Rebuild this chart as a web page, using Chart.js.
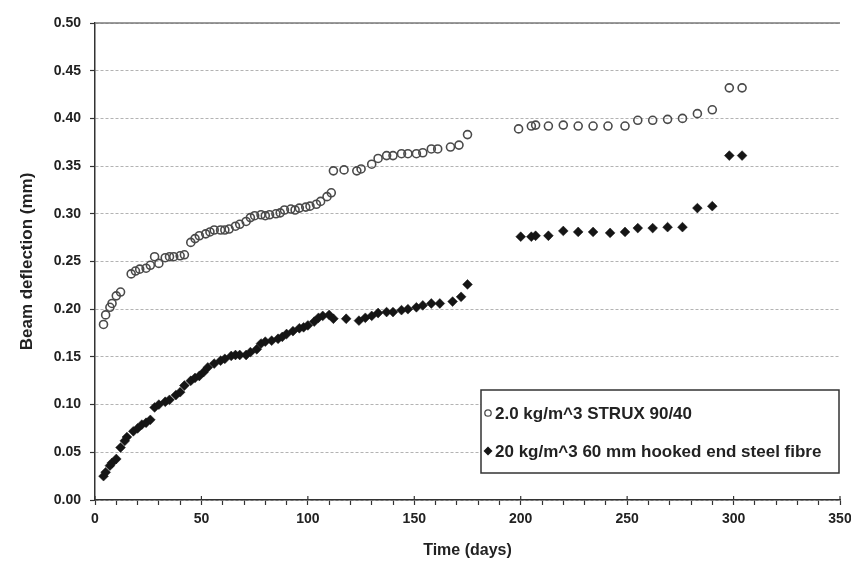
<!DOCTYPE html>
<html>
<head>
<meta charset="utf-8">
<script src="https://cdn.jsdelivr.net/npm/chart.js@4/dist/chart.umd.min.js"></script>
<style>
  body { margin: 0; background: #fff; }
  canvas { display: block; }
</style>
</head>
<body>
<canvas id="chart" width="851" height="563"></canvas>
<script>
// Datos (días, flecha en mm)
const struxLabel = '2.0 kg/m^3 STRUX 90/40';
const steelLabel = '20 kg/m^3 60 mm hooked end steel fibre';

const struxDays = [4,5,7,8,10,12,17,19,21,24,26,28,30,33,35,37,40,42,45,47,49,52,54,56,59,61,63,66,68,71,73,75,78,80,82,85,87,89,92,94,96,99,101,104,106,109,111,
    112,117,123,125,130,133,137,140,144,147,151,154,158,161,167,171,175,
    199,205,207,213,220,227,234,241,249,255,262,269,276,283,290,298,304];
const struxValues = [0.184,0.194,0.202,0.206,0.214,0.218,0.237,0.240,0.242,0.243,0.246,0.255,0.248,0.254,0.255,0.255,
    0.256,0.257,0.270,0.274,0.277,0.279,0.281,0.283,0.283,0.283,0.284,0.287,0.289,0.292,0.296,0.298,0.299,0.298,0.299,0.300,
    0.301,0.304,0.305,0.304,0.306,0.307,0.308,0.310,0.313,0.318,0.322,
    0.345,0.346,0.345,0.347,0.352,0.358,0.361,0.361,0.363,0.363,0.363,0.364,0.368,0.368,0.370,0.372,0.383,
    0.389,0.392,0.393,0.392,0.393,0.392,0.392,0.392,0.392,0.398,0.398,0.399,0.400,0.405,0.409,0.432,0.432];

const steelDays = [4,5,7,8,10,12,14,15,18,20,22,24,26,28,30,33,35,38,40,42,45,47,49,51,53,56,59,61,64,66,68,71,73,76,78,80,83,86,88,90,93,96,98,100,103,105,107,110,
    112,118,124,127,130,133,137,140,144,147,151,154,158,162,168,172,175,
    200,205,207,213,220,227,234,242,249,255,262,269,276,283,290,298,304];
const steelValues = [0.025,0.029,0.036,0.039,0.043,0.055,0.062,0.066,0.072,0.075,
    0.079,0.081,0.084,0.097,0.100,0.103,0.105,0.110,0.113,0.120,
    0.125,0.128,0.130,0.134,0.139,0.143,0.146,0.148,0.151,0.152,
    0.152,0.152,0.155,0.158,0.164,0.166,0.167,0.169,0.171,0.174,
    0.177,0.180,0.181,0.183,0.187,0.191,0.193,0.194,
    0.190,0.190,0.188,0.191,0.193,0.196,0.197,0.197,0.199,0.200,0.202,0.204,0.206,0.206,0.208,0.213,0.226,
    0.276,0.276,0.277,0.277,0.282,0.281,0.281,0.280,0.281,0.285,0.285,0.286,0.286,0.306,0.308,0.361,0.361];

const xMin = 0, xMax = 350, xStep = 10, xLabelStep = 50;
const yMin = 0, yMax = 0.5, yStep = 0.05;

const FONT = '"Liberation Sans", Arial, sans-serif';
const TEXT = '#222';

function toPoints(xs, ys) {
    return xs.map((x, i) => ({ x: x, y: ys[i] }));
}

// Línea superior continua y marcas mayores que cruzan el eje X
const axisExtras = {
    id: 'axisExtras',
    beforeDatasetsDraw(chart) {
        const { ctx, chartArea, scales } = chart;
        const yTop = scales.y.getPixelForValue(yMax);
        ctx.save();
        ctx.strokeStyle = '#7a7a7a';
        ctx.lineWidth = 1.5;
        ctx.beginPath();
        ctx.moveTo(chartArea.left, yTop);
        ctx.lineTo(chartArea.right, yTop);
        ctx.stroke();
        ctx.strokeStyle = '#333';
        ctx.lineWidth = 1.2;
        scales.x.ticks.forEach(t => {
            if (t.value % xLabelStep !== 0) return;
            const px = scales.x.getPixelForValue(t.value);
            ctx.beginPath();
            ctx.moveTo(px, chartArea.bottom);
            ctx.lineTo(px, chartArea.bottom - 4);
            ctx.stroke();
        });
        ctx.restore();
    }
};

// Leyenda dibujada dentro del área de la gráfica
const boxLegend = {
    id: 'boxLegend',
    afterDraw(chart) {
        const ctx = chart.ctx;
        const left = 481, top = 390, w = 358, h = 83;
        ctx.save();
        ctx.fillStyle = '#fff';
        ctx.fillRect(left, top, w, h);
        ctx.strokeStyle = '#333';
        ctx.lineWidth = 1.5;
        ctx.strokeRect(left, top, w, h);
        ctx.font = 'bold 17px ' + FONT;
        ctx.textBaseline = 'middle';
        ctx.fillStyle = TEXT;
        const rows = [top + 23, top + 61];
        chart.data.datasets.forEach((ds, i) => {
            const y = rows[i];
            const sx = left + 7;
            ctx.beginPath();
            if (ds.pointStyle === 'circle') {
                ctx.arc(sx, y, 3.2, 0, Math.PI * 2);
                ctx.strokeStyle = ds.borderColor;
                ctx.lineWidth = 1.3;
                ctx.stroke();
            } else {
                ctx.moveTo(sx, y - 4.5); ctx.lineTo(sx + 4.5, y); ctx.lineTo(sx, y + 4.5); ctx.lineTo(sx - 4.5, y);
                ctx.closePath();
                ctx.fillStyle = ds.backgroundColor;
                ctx.fill();
            }
            ctx.fillStyle = TEXT;
            ctx.fillText(ds.label, left + 14, y + 1);
        });
        ctx.restore();
    }
};

new Chart(document.getElementById('chart'), {
    type: 'scatter',
    data: {
        datasets: [{
            label: struxLabel,
            data: toPoints(struxDays, struxValues),
            pointStyle: 'circle',
            pointRadius: 4,
            borderWidth: 1.6,
            borderColor: '#4a4a4a',
            backgroundColor: 'rgba(255,255,255,0)'
        }, {
            label: steelLabel,
            data: toPoints(steelDays, steelValues),
            pointStyle: 'rectRot',
            pointRadius: 4.9,
            borderWidth: 0.5,
            borderColor: '#151515',
            backgroundColor: '#151515'
        }]
    },
    options: {
        responsive: false,
        animation: false,
        devicePixelRatio: 1,
        layout: { padding: { top: 23, right: 0, bottom: 0, left: 0 } },
        plugins: {
            legend: { display: false },
            tooltip: { enabled: false }
        },
        scales: {
            x: {
                type: 'linear',
                min: xMin,
                max: xMax,
                afterFit: s => { s.height = 63; s.paddingRight = 11; },
                ticks: {
                    stepSize: xStep,
                    autoSkip: false,
                    maxRotation: 0,
                    padding: 6,
                    color: TEXT,
                    font: { family: FONT, size: 14, weight: 'bold' },
                    callback: v => (v % xLabelStep === 0 ? String(v) : '')
                },
                grid: {
                    drawOnChartArea: false,
                    drawTicks: true,
                    tickLength: 5,
                    tickColor: '#333',
                    tickWidth: 1.2
                },
                border: { display: true, color: '#333', width: 1.5 },
                title: {
                    display: true,
                    text: 'Time (days)',
                    color: TEXT,
                    font: { family: FONT, size: 16, weight: 'bold' },
                    padding: { top: 0, bottom: 3 }
                }
            },
            y: {
                min: yMin,
                max: yMax,
                afterFit: s => { s.width = 95; },
                ticks: {
                    stepSize: yStep,
                    padding: 9,
                    color: TEXT,
                    font: { family: FONT, size: 14, weight: 'bold' },
                    callback: v => v.toFixed(2)
                },
                grid: {
                    color: '#b3b3b3',
                    lineWidth: 1,
                    tickLength: 5,
                    tickColor: '#333',
                    tickWidth: 1.2
                },
                border: { display: true, color: '#333', width: 1.5, dash: [3, 2] },
                title: {
                    display: true,
                    text: 'Beam deflection (mm)',
                    color: TEXT,
                    font: { family: FONT, size: 17, weight: 'bold' },
                    padding: { top: 17, bottom: 0 }
                }
            }
        }
    },
    plugins: [axisExtras, boxLegend]
});
</script>
</body>
</html>
